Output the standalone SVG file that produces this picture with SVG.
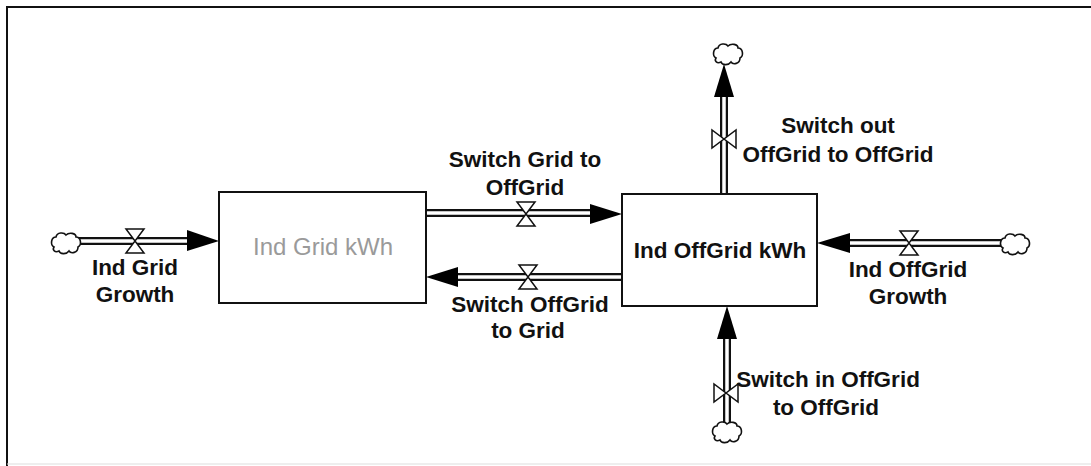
<svg xmlns="http://www.w3.org/2000/svg" xmlns:xlink="http://www.w3.org/1999/xlink" width="1091" height="466" viewBox="0 0 1091 466">
<defs>
<style>
.frame{fill:none;stroke:#111;stroke-width:2}
.stock{fill:#fff;stroke:#111;stroke-width:2}
.pipeO{fill:none;stroke:#111;stroke-width:8}
.pipeI{fill:none;stroke:#fff;stroke-width:3.5}
.head{fill:#000;stroke:none}
.valve{fill:#fff;stroke:#111;stroke-width:1.5;stroke-linejoin:miter}
.cloud{fill:#fff;stroke:#111;stroke-width:1.6}
.lbl{font-family:"Liberation Sans",Arial,sans-serif;font-weight:bold;font-size:22.5px;fill:#111;text-anchor:middle}
.gray{font-family:"Liberation Sans",Arial,sans-serif;font-size:24px;fill:#9a9a9a;text-anchor:middle}
</style>
<path id="cloudShape" class="cloud" d="M -12,4 C -16,2 -15,-6 -10,-6 C -9,-11 -2,-11 0,-8 C 3,-11 10,-10 10,-6 C 15,-6 16,2 12,4 C 12,10 5,11 3,8 C 0,12 -6,11 -7,8 C -11,10 -14,7 -12,4 Z"/>
<path id="valveV" class="valve" d="M -9,-12 L 9,-12 L -9,12 L 9,12 Z"/>
<path id="valveH" class="valve" d="M -12,-9 L -12,9 L 12,-9 L 12,9 Z"/>
</defs>
<rect width="1091" height="466" fill="#fff"/>
<path class="frame" d="M 1091,7 L 7,7 L 7,466"/>
<line x1="7" y1="464" x2="1091" y2="464" stroke="#ddd" stroke-width="1"/>

<g id="connectors">
  <!-- Ind Grid Growth -->
  <path class="pipeO" d="M 78,241 L 190,241"/>
  <path class="pipeI" d="M 78,241 L 190,241"/>
  <polygon class="head" points="187,230 219,241 187,251"/>
  <!-- Switch Grid to OffGrid -->
  <path class="pipeO" d="M 427,213 L 592,213"/>
  <path class="pipeI" d="M 427,213 L 592,213"/>
  <polygon class="head" points="590,204 622,214 590,224"/>
  <!-- Switch OffGrid to Grid -->
  <path class="pipeO" d="M 621,277 L 455,277"/>
  <path class="pipeI" d="M 621,277 L 455,277"/>
  <polygon class="head" points="458,267 426,277 458,287"/>
  <!-- Ind OffGrid Growth -->
  <path class="pipeO" d="M 1003,243 L 848,243"/>
  <path class="pipeI" d="M 1003,243 L 848,243"/>
  <polygon class="head" points="850,233 817,243 850,253"/>
  <!-- Switch out OffGrid to OffGrid -->
  <path class="pipeO" d="M 724,193 L 724,95"/>
  <path class="pipeI" d="M 724,193 L 724,95"/>
  <polygon class="head" points="714,97 724,64 734,97"/>
  <!-- Switch in OffGrid to OffGrid -->
  <path class="pipeO" d="M 727,424 L 727,337"/>
  <path class="pipeI" d="M 727,424 L 727,337"/>
  <polygon class="head" points="717,339 727,306 737,339"/>
</g>

<g id="stock-grid">
  <rect class="stock" x="219" y="192" width="207" height="111"/>
  <text class="gray" x="323" y="255">Ind Grid kWh</text>
</g>
<g id="stock-offgrid">
  <rect class="stock" x="622" y="194" width="195" height="112"/>
  <text class="lbl" x="720" y="258">Ind OffGrid kWh</text>
</g>

<g id="cloud-left"><use xlink:href="#cloudShape" x="66" y="243"/></g>
<g id="cloud-right"><use xlink:href="#cloudShape" x="1015" y="244"/></g>
<g id="cloud-top"><use xlink:href="#cloudShape" x="728" y="54"/></g>
<g id="cloud-bottom"><use xlink:href="#cloudShape" x="727" y="432"/></g>

<g id="flow-ind-grid-growth">
  <use xlink:href="#valveV" x="135" y="241"/>
  <text class="lbl" x="135" y="275">Ind Grid</text>
  <text class="lbl" x="135" y="302">Growth</text>
</g>
<g id="flow-switch-grid-to-offgrid">
  <use xlink:href="#valveV" x="526" y="214"/>
  <text class="lbl" x="525" y="167">Switch Grid to</text>
  <text class="lbl" x="525" y="195">OffGrid</text>
</g>
<g id="flow-switch-offgrid-to-grid">
  <use xlink:href="#valveV" x="528" y="277"/>
  <text class="lbl" x="530" y="312">Switch OffGrid</text>
  <text class="lbl" x="528" y="338">to Grid</text>
</g>
<g id="flow-ind-offgrid-growth">
  <use xlink:href="#valveV" x="909" y="243"/>
  <text class="lbl" x="908" y="277">Ind OffGrid</text>
  <text class="lbl" x="908" y="304">Growth</text>
</g>
<g id="flow-switch-out">
  <use xlink:href="#valveH" x="724" y="139"/>
  <text class="lbl" x="838" y="133">Switch out</text>
  <text class="lbl" x="838" y="162">OffGrid to OffGrid</text>
</g>
<g id="flow-switch-in">
  <use xlink:href="#valveH" x="726" y="393"/>
  <text class="lbl" x="828" y="387">Switch in OffGrid</text>
  <text class="lbl" x="826" y="415">to OffGrid</text>
</g>
</svg>
